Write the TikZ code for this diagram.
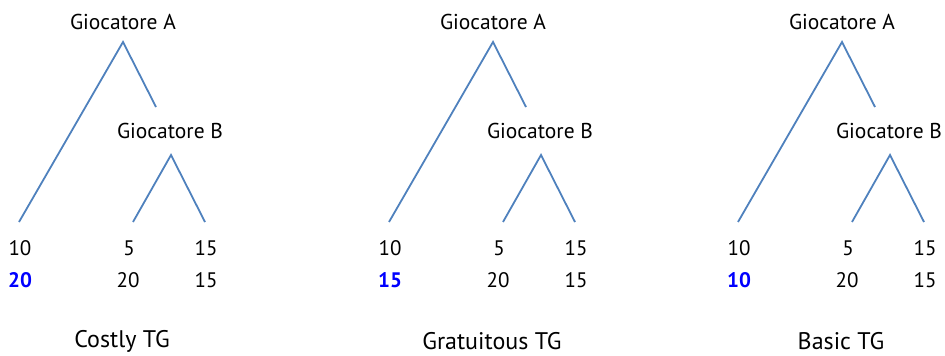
\documentclass[tikz,border=0pt]{standalone}
\usepackage{fontspec}
\setmainfont{PT Sans}
\begin{document}
\begin{tikzpicture}[x=1pt,y=-1pt,
  branch/.style={draw=edgeblue,line width=1.8pt},
  lbl/.style={inner sep=0pt,font=\fontsize{21.5}{24}\selectfont},
  num/.style={inner sep=0pt,font=\fontsize{21}{24}\selectfont},
  hi/.style={num,text=blue,font=\fontsize{21}{24}\selectfont\bfseries},
  ttl/.style={inner sep=0pt,font=\fontsize{24}{28}\selectfont}]
\definecolor{edgeblue}{RGB}{79,129,189}
\useasboundingbox (0,0) rectangle (945,356);
\foreach \o/\v/\t [count=\i] in {0/20/Costly TG,370/15/Gratuitous TG,719/10/Basic TG}{
  \begin{scope}[xshift=\o]
  \node[lbl] (A\i) at (123,22) {Giocatore A};
  \coordinate (a\i) at (123,42);
  \coordinate (l\i) at (19,222);
  \coordinate (r\i) at (156,107);
  \node[lbl] (B\i) at (170,131) {Giocatore B};
  \coordinate (b\i) at (171,155);
  \coordinate (bl\i) at (133,222);
  \coordinate (br\i) at (205,222);
  \draw[branch] (l\i) -- (a\i) -- (r\i);
  \draw[branch] (bl\i) -- (b\i) -- (br\i);
  \node[num] (p1\i) at (20,248) {10};
  \node[hi]  (q1\i) at (20,280) {\v};
  \node[num] (p2\i) at (129,248) {5};
  \node[num] (q2\i) at (128,280) {20};
  \node[num] (p3\i) at (206,248) {15};
  \node[num] (q3\i) at (206,280) {15};
  \node[ttl] (t\i) at (122,341) {\t};
  \end{scope}
}
\end{tikzpicture}
\end{document}
